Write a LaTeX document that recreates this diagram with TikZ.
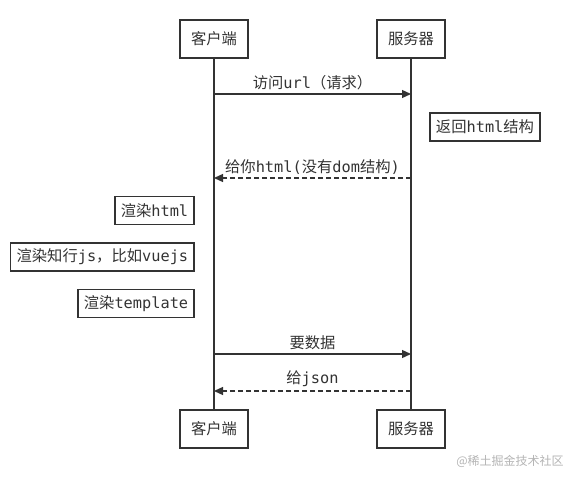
\documentclass[tikz,border=0pt]{standalone}
\usepackage{fontspec}
\setmainfont{DejaVu Sans Mono}
\newfontfamily\cjk{Noto Sans CJK SC}
\usepackage{tikz}
\usetikzlibrary{arrows.meta,positioning}
\definecolor{ink}{HTML}{333333}
\definecolor{wmark}{HTML}{B4B4B4}

\begin{document}
\begin{tikzpicture}[x=1pt,y=-1pt,font=\fontsize{15.3}{18}\selectfont,
  actor/.style={draw=ink,line width=1.6pt,minimum width=68pt,minimum height=38pt,text=ink},
  note/.style={draw=ink,line width=1.6pt,minimum height=28pt,inner xsep=6pt,text=ink},
  msg/.style={draw=ink,line width=1.3pt,-{Triangle[length=9pt,width=8pt]}},
  reply/.style={msg,dash pattern=on 5pt off 3pt}]
  \useasboundingbox (0,0) rectangle (579,482);
  % actors, top and bottom
  \node[actor] (cTop) at (214,39) {\cjk 客户端};
  \node[actor] (sTop) at (411,39) {\cjk 服务器};
  \node[actor] (cBot) at (214,429) {\cjk 客户端};
  \node[actor] (sBot) at (411,429) {\cjk 服务器};
  \draw[ink,line width=1.3pt] (cTop) -- (cBot);
  \draw[ink,line width=1.3pt] (sTop) -- (sBot);
  % message ends on the lifelines
  \foreach \y/\n in {94/1,178/2,354/3,391/4}{
    \coordinate (c\n) at (cTop |- 0,\y);
    \coordinate (s\n) at (sTop |- 0,\y);
  }
  \draw[msg] (c1) -- (s1) node[midway,above=0pt,text=ink] {{\cjk 访问}url{\cjk （请求）}};
  \draw[reply] (s2) -- (c2) node[midway,above=0pt,text=ink] {{\cjk 给你}html({\cjk 没有}dom{\cjk 结构})};
  \draw[msg] (c3) -- (s3) node[midway,above=0pt,text=ink] {\cjk 要数据};
  \draw[reply] (s4) -- (c4) node[midway,above=0pt,text=ink] {{\cjk 给}json};
  % notes
  \node[note] (back) at (485,127) {{\cjk 返回}html{\cjk 结构}};
  \node[note,anchor=east] (render1) at (195,210.5) {{\cjk 渲染}html};
  \node[note,anchor=east] (render2) at (195,257) {{\cjk 渲染知行}js{\cjk ，比如}vuejs};
  \node[note,anchor=east] (render3) at (195,303.5) {{\cjk 渲染}template};
  \node[text=wmark,font=\fontsize{12}{14}\selectfont] (logo) at (510,461) {\cjk @稀土掘金技术社区};
\end{tikzpicture}
\end{document}
